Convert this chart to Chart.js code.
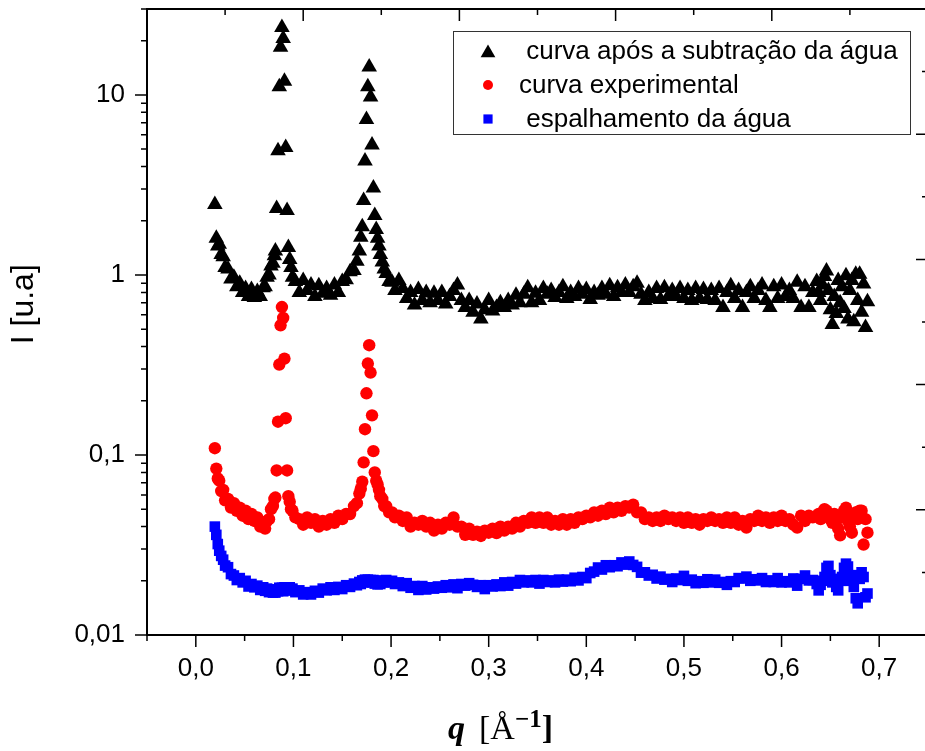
<!DOCTYPE html>
<html>
<head>
<meta charset="utf-8">
<script src="https://cdn.jsdelivr.net/npm/chart.js"></script>
<style>
  html, body { margin: 0; padding: 0; background: #fff; overflow: hidden; }
  #wrap { position: relative; width: 940px; height: 751px; }
  #xTitle {
    position: absolute; left: 448px; top: 711px;
    font-family: "Liberation Serif", "DejaVu Serif", serif;
    font-size: 34px; line-height: 34px; white-space: nowrap; color: #000;
  }
  #xTitle .q { font-weight: bold; font-style: italic; margin-right: 14px; }
  #xTitle .sup { position: relative; top: -12px; font-size: 25px; font-weight: bold; line-height: 0; }
  #xTitle .br2 { font-weight: bold; }
</style>
</head>
<body>
<div id="wrap">
  <canvas id="saxsChart" width="940" height="751"></canvas>
  <div id="xTitle"><span class="q">q</span>[Å<span class="sup">−1</span><span class="br2">]</span></div>
</div>
<script>
// scattering vector q (Å^-1), shared by the three curves
const qValues = [
  0.0195, 0.021, 0.0225, 0.024, 0.026, 0.028, 0.030, 0.033, 0.036, 0.039, 0.042, 0.045, 0.048,
  0.051, 0.054, 0.057, 0.060, 0.063, 0.066, 0.069, 0.071, 0.073, 0.075, 0.077, 0.079, 0.0805,
  0.0815, 0.0828, 0.0842, 0.0855, 0.0868, 0.0882, 0.0895, 0.0908, 0.0921, 0.0935, 0.0948,
  0.0962, 0.0975, 0.099, 0.102, 0.106, 0.110, 0.114, 0.118, 0.122, 0.126, 0.130,
  0.134, 0.138, 0.142, 0.146, 0.150, 0.154, 0.158, 0.162, 0.165, 0.1675, 0.169,
  0.1705, 0.1719, 0.1733, 0.1748, 0.1762, 0.1776, 0.1790, 0.1805, 0.1819, 0.1833, 0.1848, 0.1862,
  0.1876, 0.189, 0.191, 0.193, 0.195, 0.198, 0.201, 0.204, 0.208,
  0.212, 0.216, 0.220, 0.224, 0.228, 0.232, 0.236, 0.240, 0.244, 0.248,
  0.252, 0.256, 0.260, 0.264, 0.268, 0.272, 0.276, 0.280, 0.284, 0.288,
  0.292, 0.296, 0.300, 0.304, 0.308, 0.312, 0.316, 0.320, 0.324, 0.328,
  0.332, 0.336, 0.340, 0.344, 0.348, 0.352, 0.356, 0.360, 0.364, 0.368,
  0.372, 0.376, 0.380, 0.384, 0.388, 0.392, 0.396, 0.400, 0.404, 0.408,
  0.412, 0.416, 0.420, 0.424, 0.428, 0.432, 0.436, 0.440, 0.444, 0.448,
  0.452, 0.456, 0.460, 0.464, 0.468, 0.472, 0.476, 0.480, 0.484, 0.488,
  0.492, 0.496, 0.500, 0.504, 0.508, 0.512, 0.516, 0.520, 0.524, 0.528,
  0.532, 0.536, 0.540, 0.544, 0.548, 0.552, 0.556, 0.560, 0.564, 0.568,
  0.572, 0.576, 0.580, 0.584, 0.588, 0.592, 0.596, 0.600, 0.604, 0.608,
  0.612, 0.616, 0.620, 0.624, 0.628, 0.632, 0.636,
  0.638, 0.640, 0.642, 0.644, 0.646, 0.648, 0.650, 0.652, 0.654, 0.656, 0.658, 0.660, 0.662,
  0.664, 0.666, 0.668, 0.670, 0.672, 0.674, 0.676, 0.678, 0.680, 0.682, 0.684, 0.686, 0.688
];

// curva após a subtração da água
const iSubtracted = [
  2.46, 1.60, 1.45, 1.48, 1.30, 1.26, 1.10, 1.08, 0.95, 0.97, 0.86, 0.90, 0.80,
  0.84, 0.76, 0.83, 0.75, 0.81, 0.76, 0.85, 0.86, 0.97, 1.00, 1.12, 1.16, 1.28,
  1.36, 2.34, 4.9, 11.1, 18.4, 23.7, 20.6, 11.9, 5.1, 2.28, 1.42,
  1.22, 1.10, 0.97, 0.92, 0.80, 0.93, 0.82, 0.88, 0.76, 0.87, 0.79,
  0.84, 0.77, 0.88, 0.80, 0.92, 0.94, 1.04, 1.06, 1.19, 1.36, 1.62,
  1.85, 2.59, 4.3, 7.3, 11.1, 14.3, 9.75, 5.27, 3.04, 2.14, 1.79, 1.60,
  1.45, 1.30, 1.18, 1.08, 1.02, 0.92, 0.91, 0.82, 0.93,
  0.84, 0.74, 0.80, 0.68, 0.83, 0.72, 0.80, 0.70, 0.79, 0.72,
  0.80, 0.69, 0.76, 0.82, 0.88, 0.72, 0.66, 0.72, 0.62, 0.69,
  0.57, 0.64, 0.72, 0.63, 0.66, 0.70, 0.66, 0.72, 0.68, 0.77,
  0.70, 0.78, 0.85, 0.70, 0.79, 0.72, 0.84, 0.78, 0.82, 0.75,
  0.80, 0.86, 0.74, 0.80, 0.76, 0.84, 0.78, 0.83, 0.73, 0.80,
  0.77, 0.84, 0.78, 0.87, 0.76, 0.85, 0.80, 0.88, 0.80, 0.86,
  0.90, 0.78, 0.72, 0.80, 0.74, 0.84, 0.73, 0.85, 0.76, 0.82,
  0.76, 0.84, 0.74, 0.82, 0.72, 0.84, 0.74, 0.83, 0.73, 0.82,
  0.72, 0.84, 0.66, 0.80, 0.87, 0.74, 0.82, 0.66, 0.80, 0.86,
  0.74, 0.82, 0.88, 0.72, 0.66, 0.86, 0.74, 0.88, 0.76, 0.82,
  0.74, 0.91, 0.66, 0.86, 0.66, 0.80, 0.92,
  0.80, 0.72, 0.88, 0.98, 1.05, 0.82, 0.64, 0.53, 0.76, 0.61, 0.93, 0.70, 0.86,
  0.65, 0.99, 0.57, 0.82, 0.93, 0.55, 1.01, 0.72, 1.01, 0.62, 0.89, 0.51, 0.71
];

// curva experimental
const iExperimental = [
  0.109, 0.084, 0.074, 0.072, 0.063, 0.064, 0.056, 0.057, 0.051, 0.054, 0.049, 0.051, 0.046,
  0.049, 0.044, 0.047, 0.043, 0.045, 0.040, 0.042, 0.039, 0.043, 0.044, 0.050, 0.052, 0.057,
  0.058, 0.082, 0.153, 0.318, 0.525, 0.663, 0.577, 0.343, 0.160, 0.082, 0.059,
  0.055, 0.050, 0.049, 0.045, 0.044, 0.041, 0.045, 0.042, 0.044, 0.040, 0.043,
  0.041, 0.044, 0.042, 0.046, 0.044, 0.047, 0.047, 0.052, 0.054, 0.061, 0.065,
  0.071, 0.091, 0.139, 0.220, 0.322, 0.407, 0.287, 0.166, 0.105, 0.080, 0.072, 0.0686,
  0.064, 0.059, 0.057, 0.052, 0.052, 0.048, 0.048, 0.045, 0.046,
  0.043, 0.045, 0.040, 0.042, 0.041, 0.043, 0.040, 0.042, 0.038, 0.041,
  0.039, 0.042, 0.041, 0.045, 0.040, 0.040, 0.036, 0.039, 0.036, 0.0375,
  0.0355, 0.038, 0.037, 0.039, 0.0368, 0.040, 0.038, 0.040, 0.039, 0.042,
  0.040, 0.043, 0.042, 0.045, 0.042, 0.045, 0.042, 0.045, 0.041, 0.043,
  0.041, 0.044, 0.041, 0.044, 0.042, 0.045, 0.044, 0.046, 0.045, 0.048,
  0.046, 0.049, 0.047, 0.051, 0.048, 0.051, 0.049, 0.052, 0.051, 0.053,
  0.048, 0.048, 0.044, 0.045, 0.043, 0.045, 0.043, 0.046, 0.044, 0.045,
  0.043, 0.045, 0.042, 0.045, 0.042, 0.044, 0.041, 0.044, 0.043, 0.045,
  0.043, 0.044, 0.042, 0.045, 0.042, 0.045, 0.041, 0.043, 0.0395, 0.044,
  0.043, 0.046, 0.043, 0.045, 0.042, 0.045, 0.043, 0.046, 0.043, 0.044,
  0.041, 0.0395, 0.046, 0.043, 0.046, 0.045, 0.046,
  0.047, 0.044, 0.048, 0.050, 0.049, 0.046, 0.044, 0.042, 0.047, 0.043, 0.039, 0.0358, 0.045,
  0.049, 0.051, 0.043, 0.040, 0.037, 0.046, 0.048, 0.044, 0.049, 0.049, 0.0318, 0.044, 0.037
];

// espalhamento da água
const iWater = [
  0.040, 0.036, 0.032, 0.0294, 0.0275, 0.0262, 0.0243, 0.0238, 0.0218, 0.0214, 0.0202, 0.0207, 0.0196,
  0.0200, 0.0186, 0.0192, 0.0184, 0.0188, 0.0178, 0.0184, 0.0176, 0.0181, 0.0173, 0.0177, 0.0172, 0.0179,
  0.0172, 0.0179, 0.0175, 0.0183, 0.0178, 0.0183, 0.0175, 0.0184, 0.0180, 0.0184, 0.0177,
  0.0184, 0.0177, 0.0181, 0.0173, 0.0177, 0.0168, 0.0173, 0.0168, 0.0176, 0.0172, 0.0181,
  0.0177, 0.0184, 0.0178, 0.0185, 0.0180, 0.0189, 0.0185, 0.0193, 0.0189, 0.0197, 0.0192,
  0.0201, 0.0196, 0.0203, 0.0197, 0.0203, 0.0197, 0.0202, 0.0196, 0.0202, 0.0193, 0.0198, 0.0191,
  0.0198, 0.0192, 0.0201, 0.0196, 0.0202, 0.0196, 0.0200, 0.0192, 0.0196,
  0.0187, 0.0194, 0.0183, 0.0187, 0.0178, 0.0187, 0.0179, 0.0184, 0.0181, 0.0186,
  0.0183, 0.0189, 0.0184, 0.0191, 0.0182, 0.0192, 0.0188, 0.0194, 0.0190, 0.0185,
  0.0189, 0.0180, 0.0189, 0.0186, 0.0191, 0.0187, 0.0196, 0.0188, 0.0197, 0.0193,
  0.0202, 0.0196, 0.0201, 0.0196, 0.0202, 0.0193, 0.0202, 0.0197, 0.0201, 0.0196,
  0.0203, 0.0198, 0.0203, 0.0199, 0.0208, 0.0201, 0.0210, 0.0207, 0.0221, 0.0225,
  0.0237, 0.0231, 0.0244, 0.0238, 0.0244, 0.0241, 0.0253, 0.0246, 0.0256, 0.0245,
  0.0239, 0.0222, 0.0223, 0.0214, 0.0216, 0.0206, 0.0211, 0.0203, 0.0205, 0.0197,
  0.0206, 0.0202, 0.0213, 0.0200, 0.0203, 0.0194, 0.0199, 0.0195, 0.0204, 0.0196,
  0.0203, 0.0195, 0.0197, 0.0190, 0.0199, 0.0197, 0.0207, 0.0206, 0.0211, 0.0200,
  0.0204, 0.0201, 0.0207, 0.0197, 0.0201, 0.0197, 0.0207, 0.0196, 0.0199, 0.0196,
  0.0206, 0.0188, 0.0205, 0.0214, 0.0201, 0.0202, 0.0192,
  0.0177, 0.0190, 0.0200, 0.0210, 0.0236, 0.0242, 0.0215, 0.0196, 0.0205, 0.0185, 0.0177, 0.0200, 0.0210,
  0.0236, 0.0249, 0.0240, 0.0200, 0.0215, 0.0185, 0.0160, 0.0150, 0.0205, 0.0223, 0.0210, 0.0162, 0.0170
];

const seriesLabels = [' curva após a subtração da água', 'curva experimental', ' espalhamento da água'];
const xTickLabels = ['0,0', '0,1', '0,2', '0,3', '0,4', '0,5', '0,6', '0,7'];
const yTickLabels = { '0.01': '0,01', '0.1': '0,1', '1': '1', '10': '10' };

const toPoints = vals => qValues.map((q, i) => ({ x: q, y: vals[i] }));

Chart.defaults.font.family = '"Liberation Sans", Arial, sans-serif';
Chart.defaults.color = '#000';

const isDecade = v => Math.abs(Math.log10(v) - Math.round(Math.log10(v))) < 1e-9;
const isTenth = v => Math.abs(v * 10 - Math.round(v * 10)) < 1e-6;

// outer frame, tick marks (major/minor) and the boxed legend
const framePlugin = {
  id: 'frame',
  afterDraw(chart) {
    const { ctx, chartArea: a, scales: { x, y } } = chart;
    ctx.save();
    ctx.strokeStyle = '#000';
    ctx.lineWidth = 2;
    ctx.beginPath();
    ctx.moveTo(a.left, a.top);
    ctx.lineTo(a.right, a.top);
    ctx.lineTo(a.right, a.bottom);
    ctx.stroke();

    ctx.lineWidth = 1.5;
    ctx.beginPath();
    x.ticks.forEach(t => {
      const px = x.getPixelForValue(t.value);
      const len = isTenth(t.value) ? 12 : 6;
      ctx.moveTo(px, a.bottom);
      ctx.lineTo(px, a.bottom + len);
    });
    y.ticks.forEach(t => {
      const py = y.getPixelForValue(t.value);
      const len = isDecade(t.value) ? 12 : 6;
      ctx.moveTo(a.left - len, py);
      ctx.lineTo(a.left, py);
    });
    // opposite axes: ticks pointing inward
    for (let i = 0; i <= 10; i++) {
      const len = i % 2 === 0 ? 12 : 6;
      const px = a.left + i * (a.right - a.left) / 10;
      ctx.moveTo(px, a.top);
      ctx.lineTo(px, a.top + len);
      const py = a.bottom - i * (a.bottom - a.top) / 10;
      ctx.moveTo(a.right, py);
      ctx.lineTo(a.right - len, py);
    }
    ctx.stroke();

    // legend
    const boxL = a.right - 475, boxT = a.top + 22, boxW = 457, boxH = 103;
    ctx.fillStyle = '#fff';
    ctx.fillRect(boxL, boxT, boxW, boxH);
    ctx.strokeStyle = '#333';
    ctx.lineWidth = 1;
    ctx.strokeRect(boxL + 0.5, boxT + 0.5, boxW, boxH);
    const markerR = [8.5, 5, 6.5];
    chart.data.datasets.forEach((ds, i) => {
      const cy = boxT + 20 + i * 34;
      ctx.fillStyle = ds.backgroundColor;
      Chart.helpers.drawPoint(ctx, { pointStyle: ds.pointStyle, radius: markerR[i], borderWidth: 0, rotation: 0 },
        boxL + 35, ds.pointStyle === 'triangle' ? cy + 2 : cy);
      ctx.fillStyle = '#000';
      ctx.font = '26px "Liberation Sans", Arial, sans-serif';
      ctx.textBaseline = 'alphabetic';
      ctx.textAlign = 'left';
      ctx.fillText(ds.label, boxL + 66, cy + 8);
    });
    ctx.restore();
  }
};

new Chart(document.getElementById('saxsChart'), {
  type: 'scatter',
  data: {
    datasets: [
      {
        label: seriesLabels[0],
        data: toPoints(iSubtracted),
        pointStyle: 'triangle',
        pointRadius: 9,
        backgroundColor: '#000000',
        borderColor: '#000000',
        borderWidth: 0
      },
      {
        label: seriesLabels[1],
        data: toPoints(iExperimental),
        pointStyle: 'circle',
        pointRadius: 6.2,
        backgroundColor: '#ff0000',
        borderColor: '#ff0000',
        borderWidth: 0
      },
      {
        label: seriesLabels[2],
        data: toPoints(iWater),
        pointStyle: 'rect',
        pointRadius: 7.5,
        backgroundColor: '#0000ff',
        borderColor: '#0000ff',
        borderWidth: 0
      }
    ]
  },
  options: {
    responsive: false,
    animation: false,
    layout: { padding: { top: 5, right: 12, bottom: 0, left: 0 } },
    plugins: {
      legend: { display: false },
      tooltip: { enabled: false }
    },
    scales: {
      x: {
        type: 'linear',
        position: 'bottom',
        min: -0.05,
        max: 0.75,
        afterFit: scale => {
          scale.height = 116;
          scale.paddingLeft = 0;
          scale.paddingRight = 0;
        },
        grid: { display: false, drawTicks: false },
        border: { display: true, color: '#000', width: 2 },
        ticks: {
          stepSize: 0.05,
          autoSkip: false,
          maxRotation: 0,
          padding: 18,
          font: { size: 26 },
          callback: value => {
            if (!isTenth(value) || value < -1e-9) return '';
            return xTickLabels[Math.round(value * 10)] || '';
          }
        }
      },
      y: {
        type: 'logarithmic',
        position: 'left',
        min: 0.01,
        max: 30,
        afterFit: scale => {
          scale.width = 147;
          scale.paddingTop = 0;
          scale.paddingBottom = 0;
        },
        afterBuildTicks: scale => {
          // keep only 1..9 x 10^n steps
          scale.ticks = scale.ticks.filter(t => {
            const m = t.value / Math.pow(10, Math.floor(Math.log10(t.value) + 1e-9));
            return Math.abs(m - Math.round(m)) < 1e-6;
          });
        },
        grid: { display: false, drawTicks: false },
        border: { display: true, color: '#000', width: 2 },
        title: {
          display: true,
          text: '    I [u.a]',
          font: { size: 32 },
          padding: { top: 5, bottom: 0 }
        },
        ticks: {
          autoSkip: false,
          padding: 22,
          font: { size: 26 },
          callback: value => {
            if (!isDecade(value)) return '';
            return yTickLabels[String(Number(value.toPrecision(6)))] || '';
          }
        }
      }
    }
  },
  plugins: [framePlugin]
});
</script>
</body>
</html>
